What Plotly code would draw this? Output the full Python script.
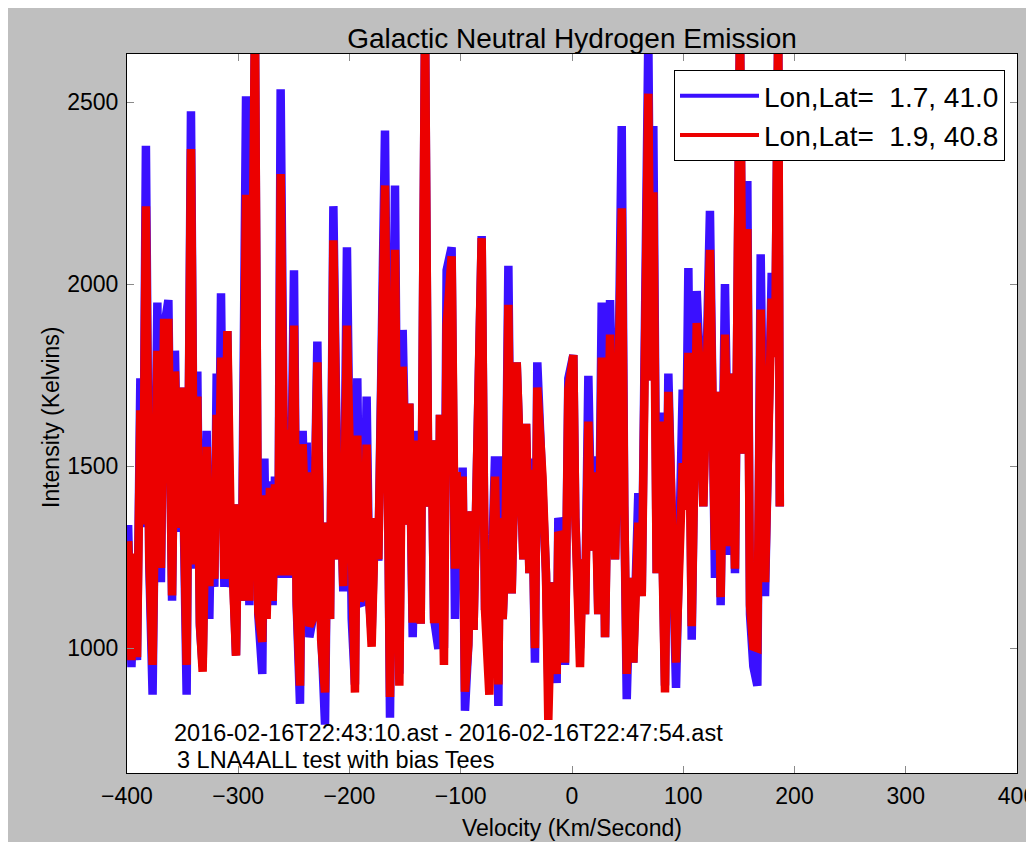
import plotly.graph_objects as go

# ---- data ----
velocity = [
    -399, -396, -393, -391, -388, -385.5, -383, -380, -377, -372.7,
    -369.5, -366.7, -362.8, -359.5, -356.9, -354, -350.9, -348.5, -346.4, -342.5,
    -339.5, -336.8, -334.5, -332, -328.4, -326, -323.9, -321.5, -319.4, -317.5,
    -315.5, -312.5, -309.8, -307, -304.5, -302, -300, -297, -293, -290,
    -285, -282, -278.4, -276.5, -274.5, -271.5, -269.1, -267, -264, -261.9,
    -258, -255.9, -253.5, -249.9, -247.5, -244.5, -242.1, -240, -238.5, -236.1,
    -233.1, -228.9, -225.5, -222, -220, -217.5, -214.5, -210.1, -208, -205.6,
    -202.3, -198, -195.1, -193, -190.6, -187.6, -184.6, -182, -180.1, -177.1,
    -174.1, -171.1, -168.1, -163.6, -159.1, -157, -155.2, -152.2, -148.6, -146.2,
    -143.2, -139.1, -136, -132.1, -129.1, -126.1, -124, -120.1, -118.7, -115.1,
    -112.7, -108.2, -105.2, -103.7, -100.7, -98.3, -96.2, -93.2, -90.2, -88.5,
    -84.2, -81.2, -78.2, -74.3, -72.2, -69.2, -66.2, -64.7, -62.3, -60,
    -57.2, -54.2, -49.7, -46.7, -43.7, -41.3, -38.3, -36.2, -33.3, -31.2,
    -26.5, -23.4, -21.3, -18.2, -13.8, -12.3, -9.3, -6.3, -3.3, 1.2,
    3, 7.2, 9.6, 11.7, 14.7, 17.7, 20.7, 23.6, 26.7, 29.7,
    34.2, 38.7, 41, 44.7, 47, 49.2, 52.1, 55.1, 59.6, 62.7,
    68.6, 71, 73.1, 76.1, 79.1, 81, 83.6, 86.6, 89.6, 93.5,
    99.5, 102, 104.6, 107.6, 112.1, 115.1, 118, 121.1, 124, 128.5,
    131.5, 133.6, 137.5, 141.4, 143.6, 146.5, 151, 154, 157.6, 160,
    163, 166.6, 169.6, 173.5, 176.4, 179.5, 182.5, 185.4, 186.8,
]

intensity_blue = [
    1338, 948, 1256, 967, 1741, 1332, 2380, 1231, 872, 1949,
    1181, 1880, 1956, 1130, 1817, 1319, 1716, 1004, 872, 2475,
    1218, 1760, 1061, 950, 1597, 1080, 1458, 1168, 1754, 1382,
    1975, 1168, 1871, 1168, 1193, 980, 1395, 1130, 2516, 1118,
    2720, 1093, 929, 1521, 1100, 1458, 1118, 1471, 1193, 2535,
    1193, 1634, 1193, 2038, 1118, 847, 1597, 1350, 1565, 1030,
    1080, 1842, 1050, 790, 1345, 1080, 2214, 1244, 1433, 1156,
    2101, 1080, 900, 1741, 1130, 1118, 1691, 1118, 1040, 1357,
    1240, 1823, 2422, 809, 2271, 1433, 930, 1874, 1339, 1672,
    1030, 1597, 1067, 2720, 1389, 1571, 1080, 998, 1641, 1000,
    2038, 2101, 1080, 1483, 1256, 1496, 828, 1010, 1376, 1050,
    1899, 2132, 1105, 1250, 1200, 1527, 841, 1527, 1080, 1256,
    2050, 1150, 1785, 1389, 1244, 1616, 1206, 1521, 960, 1785,
    1480, 1206, 900, 1181, 904, 1357, 1325, 954, 1741, 1805,
    1357, 1000, 1244, 1093, 1748, 1268, 1527, 1093, 1949, 1030,
    1956, 1244, 1559, 2434, 1389, 860, 1193, 960, 1426, 1143,
    2680, 1735, 2434, 1206, 1647, 1206, 897, 1754, 1290, 891,
    1710, 1380, 2044, 1023, 1981, 1760, 1389, 1981, 2201, 1193,
    1704, 1118, 2000, 1256, 1754, 1206, 2720, 1534, 2283, 1093,
    950, 897, 2082, 1143, 1697, 2031, 1800, 2720, 1389,
]

intensity_red = [
    1294, 967, 1260, 975, 1653, 1340, 2214, 1250, 954, 1817,
    1220, 1893, 1893, 1145, 1760, 1330, 1716, 1040, 954, 2371,
    1230, 1691, 1070, 935, 1553, 1170, 1458, 1190, 1641, 1382,
    1798, 1190, 1871, 1370, 1067, 979, 1395, 1130, 2245, 1130,
    2720, 1100, 1017, 1420, 1080, 1440, 1130, 1450, 1200, 2302,
    1200, 1600, 1200, 1886, 1130, 897, 1560, 1360, 1483, 1060,
    1080, 1785, 1023, 878, 1345, 1080, 2120, 1244, 1433, 1170,
    1886, 1080, 878, 1584, 1130, 1150, 1559, 1118, 1004, 1357,
    1244, 1770, 2271, 866, 2094, 1433, 897, 1773, 1339, 1672,
    1070, 1570, 1067, 2720, 1389, 1571, 1080, 1080, 1641, 954,
    1886, 2076, 1218, 1483, 1256, 1471, 880, 1010, 1376, 1050,
    1860, 2126, 1105, 872, 1150, 1471, 900, 1357, 1080, 1256,
    1943, 1150, 1785, 1389, 1244, 1616, 1206, 1490, 1000, 1716,
    1470, 1206, 803, 1181, 929, 1319, 1300, 960, 1710, 1805,
    1357, 948, 1244, 1093, 1622, 1268, 1483, 1093, 1798, 1030,
    1861, 1244, 1559, 2208, 1389, 929, 1193, 960, 1345, 1143,
    2523, 1735, 2252, 1206, 1622, 1206, 878, 1704, 1290, 960,
    1508, 1380, 1811, 1060, 1893, 1760, 1389, 1850, 2094, 1270,
    1704, 1140, 1861, 1280, 1754, 1218, 2720, 1534, 2151, 1118,
    1004, 1000, 1930, 1181, 1697, 1960, 1800, 2720, 1389,
]

series_names = ["Lon,Lat=\u00a0 1.7, 41.0", "Lon,Lat=\u00a0 1.9, 40.8"]
x_ticks = [-400, -300, -200, -100, 0, 100, 200, 300, 400]
y_ticks = [1000, 1500, 2000, 2500]
note_lines = [
    "2016-02-16T22:43:10.ast - 2016-02-16T22:47:54.ast",
    "3 LNA4ALL test with bias Tees",
]

assert len(velocity) == len(intensity_blue) == len(intensity_red)

# ---- styling ----
BLUE = "#3a10ff"
RED = "#ec0000"
FONT = "Liberation Sans, Arial, Helvetica, sans-serif"
# the page body adds an 8px margin, so the figure starts at (8, 8)
W, H = 1026, 834
L, R, T, B = 119, 17, 46, 69
PW, PH = W - L - R, H - T - B

fig = go.Figure()
fig.add_trace(go.Scatter(
    x=velocity, y=intensity_blue, mode="lines", name=series_names[0],
    showlegend=False, line=dict(color=BLUE, width=8.5), hoverinfo="x+y",
))
fig.add_trace(go.Scatter(
    x=velocity, y=intensity_red, mode="lines", name=series_names[1],
    showlegend=False, line=dict(color=RED, width=8.5), hoverinfo="x+y",
))
# legend entries with thin sample lines
fig.add_trace(go.Scatter(
    x=[None], y=[None], mode="lines", name=series_names[0],
    legendgroup="a", line=dict(color=BLUE, width=4),
))
fig.add_trace(go.Scatter(
    x=[None], y=[None], mode="lines", name=series_names[1],
    legendgroup="b", line=dict(color=RED, width=4),
))

axis_common = dict(
    showgrid=False, zeroline=False, showline=True, linecolor="black",
    linewidth=1, mirror="ticks", ticks="inside", ticklen=7, tickwidth=1,
    tickcolor="#8a8a8a", tickfont=dict(size=23, color="black"),
    ticklabeloverflow="allow", automargin=False,
)

fig.update_layout(
    width=W, height=H,
    margin=dict(l=L, r=R, t=T, b=B, autoexpand=False),
    paper_bgcolor="#bfbfbf",
    plot_bgcolor="white",
    font=dict(family=FONT, color="black"),
    title=dict(text="Galactic Neutral Hydrogen Emission", x=0.5, xref="paper",
               y=1 - 30 / H, yref="container", yanchor="middle",
               font=dict(size=28, color="black")),
    xaxis=dict(range=[-400, 400], tickvals=x_ticks, ticklabelstandoff=2,
               **axis_common),
    yaxis=dict(range=[657, 2632], tickvals=y_ticks, ticklabelstandoff=3,
               **axis_common),
    showlegend=True,
    legend=dict(
        x=(997 - L) / PW, xanchor="right", y=(765 - 62) / PH, yanchor="top",
        bgcolor="white", bordercolor="black", borderwidth=1,
        font=dict(size=28, color="black"), tracegroupgap=0, itemwidth=79,
    ),
    annotations=[
        dict(text=note_lines[0], x=-360, y=767, xref="x", yref="y",
             xanchor="left", yanchor="middle", showarrow=False,
             font=dict(size=23.5, color="black")),
        dict(text=note_lines[1], x=-357, y=692, xref="x", yref="y",
             xanchor="left", yanchor="middle", showarrow=False,
             font=dict(size=23.5, color="black")),
        dict(text="Velocity (Km/Second)", x=0.5, y=(765 - 820) / PH,
             xref="paper", yref="paper", xanchor="center", yanchor="middle",
             showarrow=False, font=dict(size=23, color="black")),
        dict(text="Intensity (Kelvins)", x=(43 - L) / PW, y=(765 - 409) / PH,
             xref="paper", yref="paper", xanchor="center", yanchor="middle",
             textangle=-90, showarrow=False, font=dict(size=23, color="black")),
    ],
)

fig.write_html("out.html")
